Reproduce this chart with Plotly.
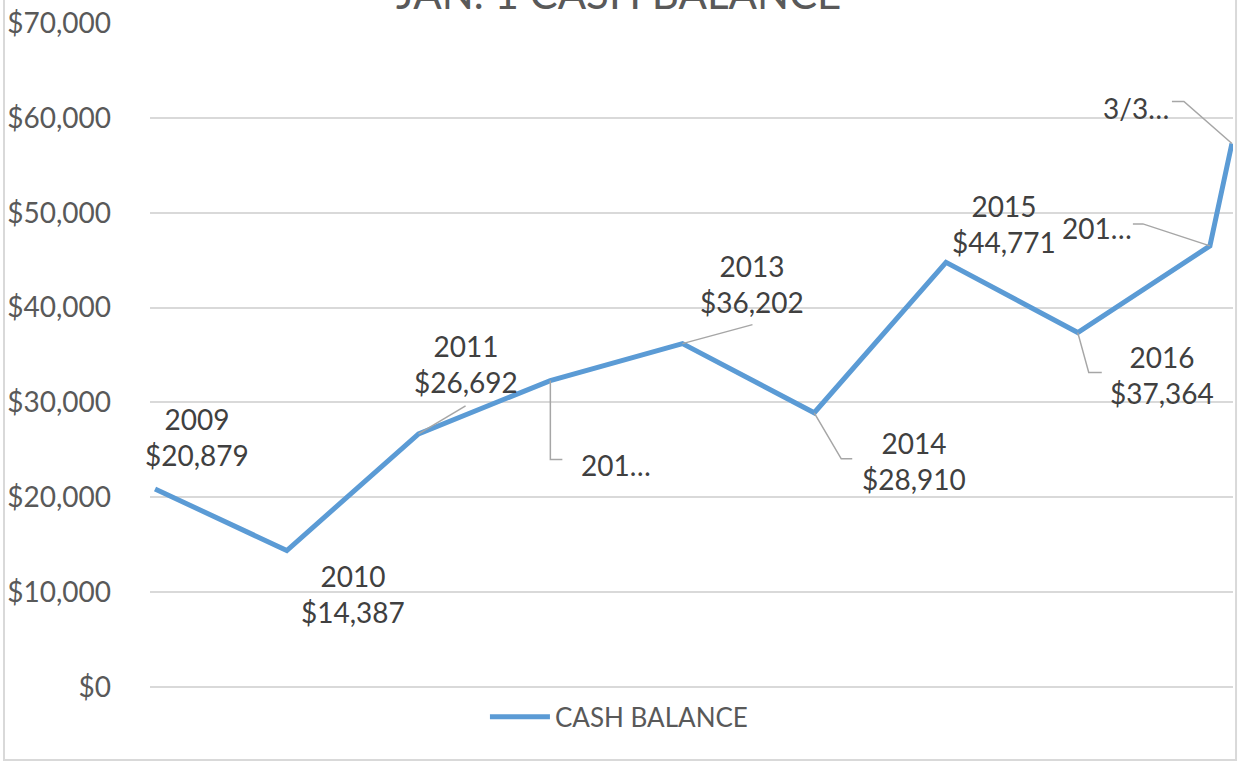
import plotly.graph_objects as go

# ---- data ----
dates = ["2009-01-01", "2010-01-01", "2011-01-01", "2012-01-01", "2013-01-01",
         "2014-01-01", "2015-01-01", "2016-01-01", "2017-01-01", "2017-03-03"]
values = [20879, 14387, 26692, 32300, 36202, 28910, 44771, 37364, 46500, 57300]
label_text = ["2009<br>$20,879", "2010<br>$14,387", "2011<br>$26,692", "201…",
              "2013<br>$36,202", "2014<br>$28,910", "2015<br>$44,771",
              "2016<br>$37,364", "201…", "3/3…"]
y_ticks = [0, 10000, 20000, 30000, 40000, 50000, 60000, 70000]
y_tick_text = ["$0", "$10,000", "$20,000", "$30,000", "$40,000", "$50,000",
               "$60,000", "$70,000"]
series_name = "CASH BALANCE"
title_text = "JAN. 1 CASH BALANCE"

# ---- styling (pixel offsets of labels and leader lines) ----
label_shift = [(42, 52), (66, -43), (47, 70), (66, -84), (70, 60),
               (100, -48), (58, 38), (84, -42), (-113, 18), (-96, 35)]
leader_paths = {
    2: "M0,0 L47,28",
    3: "M0,0 L0,-79 L12,-79",
    4: "M0,0 L70,19",
    5: "M0,0 L27,-46 L38,-46",
    7: "M0,0 L11,-40 L24,-40",
    8: "M-77,22 L-67,22 L0,0",
    9: "M-60,42 L-48,42 L0,0",
}

FONT = "Lato"
fig = go.Figure()
fig.add_trace(go.Scatter(
    x=dates, y=values, mode="lines", name=series_name,
    line=dict(color="#5B9BD5", width=5),
))

annotations = []
for i, (d, v) in enumerate(zip(dates, values)):
    dx, dy = label_shift[i]
    annotations.append(dict(
        x=d, y=v, xref="x", yref="y", text=label_text[i], showarrow=False,
        xanchor="center", yanchor="middle", xshift=dx, yshift=dy,
        font=dict(family=FONT, size=28, color="#404040"),
    ))

# title (cut off at top as in reference)
annotations.append(dict(
    x=0.433, y=1, xref="paper", yref="paper", text=title_text,
    showarrow=False, xanchor="center", yanchor="bottom", yshift=3,
    font=dict(family=FONT, size=42, color="#595959"),
))

shapes = []
for i, p in leader_paths.items():
    shapes.append(dict(
        type="path", xref="x", yref="y", xsizemode="pixel", ysizemode="pixel",
        xanchor=dates[i], yanchor=values[i], path=p,
        line=dict(color="#A6A6A6", width=1.5),
    ))
# chart border
shapes.append(dict(type="rect", xref="paper", yref="paper",
                   x0=-0.1348, x1=1.0028, y0=-0.110, y1=1.2,
                   line=dict(color="#D9D9D9", width=2), fillcolor="rgba(0,0,0,0)",
                   layer="below"))

fig.update_layout(
    width=1238, height=762,
    margin=dict(l=150, r=5, t=23, b=75, autoexpand=False),
    paper_bgcolor="white", plot_bgcolor="white",
    showlegend=True,
    legend=dict(orientation="h", x=0.433, xanchor="center",
                y=-0.045, yanchor="middle",
                font=dict(family=FONT, size=26, color="#595959"),
                itemwidth=60),
    xaxis=dict(type="date", range=["2008-12-18", "2017-03-06"],
               showticklabels=False, showgrid=False, zeroline=False,
               showline=False, ticks=""),
    yaxis=dict(range=[0, 70000], tickvals=y_ticks, ticktext=y_tick_text,
               showgrid=True, gridcolor="#D9D9D9",
               gridwidth=1.5, zeroline=True, zerolinecolor="#D9D9D9",
               zerolinewidth=1.5, showline=False,
               ticklabelstandoff=38,
               tickfont=dict(family=FONT, size=28, color="#595959")),
    annotations=annotations, shapes=shapes,
)

fig.write_html("out.html")
